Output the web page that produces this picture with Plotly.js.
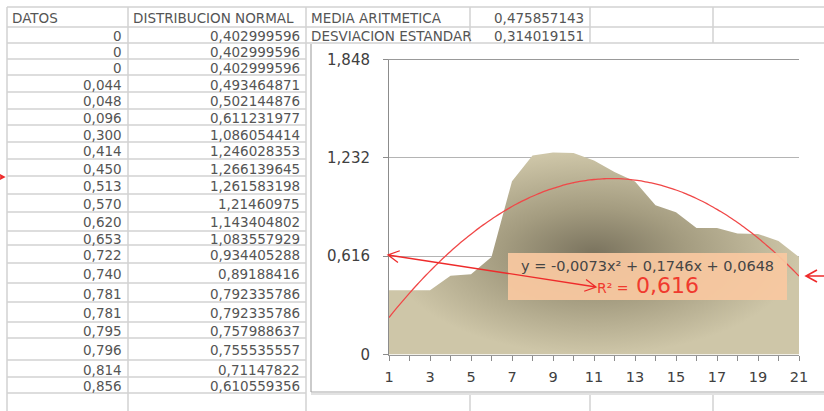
<!DOCTYPE html>
<html>
<head>
<meta charset="utf-8">
<script src="https://cdn.plot.ly/plotly-3.0.1.min.js"></script>
<style>
html,body{margin:0;padding:0;background:#fff;}
#chart{width:824px;height:411px;}
</style>
</head>
<body>
<div id="chart"></div>
<script>
// ---- data ----
const datos = [0, 0, 0, 0.044, 0.048, 0.096, 0.300, 0.414, 0.450, 0.513, 0.570,
  0.620, 0.653, 0.722, 0.740, 0.781, 0.781, 0.795, 0.796, 0.814, 0.856];
const normal = [0.402999596, 0.402999596, 0.402999596, 0.493464871, 0.502144876,
  0.611231977, 1.086054414, 1.246028353, 1.266139645, 1.261583198, 1.21460975,
  1.143404802, 1.083557929, 0.934405288, 0.89188416, 0.792335786, 0.792335786,
  0.757988637, 0.755535557, 0.71147822, 0.610559356];
const categories = normal.map((v, i) => i + 1);
const media = 0.475857143;
const desviacion = 0.314019151;
const headers = ["DATOS", "DISTRIBUCION NORMAL"];
const statLabels = ["MEDIA ARITMETICA", "DESVIACION ESTANDAR"];
const yTickVals = [0, 0.616, 1.232, 1.848];
const yTickText = ["0", "0,616", "1,232", "1,848"];
const xTickText = categories.map(c => (c % 2 === 1 ? String(c) : ""));
const eqText = "y = -0,0073x² + 0,1746x + 0,0648";
const r2Label = "R² =";
const r2Value = "0,616";

// ---- quadratic least-squares trendline computed from the data ----
function polyFit2(xs, ys) {
  let S = [0,0,0,0,0], T = [0,0,0];
  for (let i = 0; i < xs.length; i++) {
    let p = 1;
    for (let k = 0; k < 5; k++) { S[k] += p; if (k < 3) T[k] += p * ys[i]; p *= xs[i]; }
  }
  const A = [[S[0],S[1],S[2],T[0]],[S[1],S[2],S[3],T[1]],[S[2],S[3],S[4],T[2]]];
  for (let c = 0; c < 3; c++) {
    for (let r = c + 1; r < 3; r++) {
      const f = A[r][c] / A[c][c];
      for (let k = c; k < 4; k++) A[r][k] -= f * A[c][k];
    }
  }
  const sol = [0,0,0];
  for (let r = 2; r >= 0; r--) {
    let s = A[r][3];
    for (let k = r + 1; k < 3; k++) s -= A[r][k] * sol[k];
    sol[r] = s / A[r][r];
  }
  return sol; // a0, a1, a2
}
const coef = polyFit2(categories, normal);
const trendX = [], trendY = [];
for (let t = categories[0]; t <= categories[categories.length-1] + 1e-9; t += 0.2) {
  trendX.push(t);
  trendY.push(coef[0] + coef[1]*t + coef[2]*t*t);
}

// ---- geometry helpers (pixel -> paper) ----
const W = 824, H = 411;
const px = x => x / W;
const py = y => 1 - y / H;

const colX = [7, 128, 306, 470, 590, 713];
const rowY = [7, 27, 43, 59, 75, 92, 109, 125, 142, 159, 176, 194, 212, 231, 245,
  263, 283, 302, 322, 338, 360, 377, 393];
const gridCol = '#d2d2d2';
const txtCol = '#555555';
const tFont = {family: 'DejaVu Sans', size: 13.5, color: txtCol};

const xDomain = [px(389), px(799)];
const yDomain = [py(354.5), py(59.5)];
const yRange = [yTickVals[0], yTickVals[yTickVals.length-1]];

const shapes = [];
const annotations = [];
function hline(x0, x1, y, color, w, layer) {
  shapes.push({type:'line', xref:'paper', yref:'paper', x0:px(x0), x1:px(x1), y0:py(y), y1:py(y),
    line:{color:color, width:w}, layer: layer || 'below'});
}
function vline(x, y0, y1, color, w, layer) {
  shapes.push({type:'line', xref:'paper', yref:'paper', x0:px(x), x1:px(x), y0:py(y0), y1:py(y1),
    line:{color:color, width:w}, layer: layer || 'below'});
}
// spreadsheet grid
rowY.forEach(y => hline(colX[0], colX[2], y, gridCol, 1.5));
hline(colX[2], 824, rowY[0], gridCol, 1.5);
hline(colX[2], 824, rowY[1], gridCol, 1.5);
hline(colX[2], 824, rowY[2], gridCol, 1.5);
[colX[0], colX[1], colX[2]].forEach(x => vline(x, rowY[0], 411, gridCol, 1.5));
[colX[3], colX[4], colX[5]].forEach(x => { vline(x, rowY[0], rowY[2], gridCol, 1.5); vline(x, 393, 411, gridCol, 1.5); });
// chart object background
shapes.push({type:'rect', xref:'paper', yref:'paper', x0:px(311), x1:px(830), y0:py(392), y1:py(44),
  fillcolor:'#ffffff', line:{width:0}, layer:'below'});
vline(311, 44, 392, '#a8a8a8', 1.2);
hline(311, 824, 392, '#a8a8a8', 1.2);
hline(311, 824, 394, '#e2e2e2', 2);

// table texts
function cellText(text, col, row, align) {
  const y = (rowY[row] + rowY[row+1]) / 2 + 1;
  const x = align === 'right' ? colX[col+1] - 4 : colX[col] + 3;
  annotations.push({xref:'paper', yref:'paper', x:px(x), y:py(y), text:text, showarrow:false,
    xanchor: align === 'right' ? 'right' : 'left', yanchor:'middle', font:tFont});
}
cellText(headers[0], 0, 0, 'left');
cellText(headers[1], 1, 0, 'left');
cellText(statLabels[0], 2, 0, 'left');
cellText(statLabels[1], 2, 1, 'left');
cellText(String(media).replace('.', ','), 3, 0, 'right');
cellText(String(desviacion).replace('.', ','), 3, 1, 'right');
datos.forEach((d, i) => cellText(d === 0 ? '0' : d.toFixed(3).replace('.', ','), 0, i + 1, 'right'));
normal.forEach((v, i) => cellText(String(v).replace('.', ','), 1, i + 1, 'right'));

// trendline label box
shapes.push({type:'rect', xref:'paper', yref:'paper', x0:px(508), x1:px(787), y0:py(300), y1:py(253),
  fillcolor:'#f9c8a0', opacity:0.93, line:{width:0}, layer:'above'});
annotations.push({xref:'paper', yref:'paper', x:px(647), y:py(266), text:eqText, showarrow:false,
  xanchor:'center', yanchor:'middle', font:{family:'DejaVu Sans', size:14.5, color:'#454545'}});
annotations.push({xref:'paper', yref:'paper', x:px(631), y:py(288), text:r2Label, showarrow:false,
  xanchor:'right', yanchor:'middle', font:{family:'DejaVu Sans', size:14, color:'#f03a2e'}});
annotations.push({xref:'paper', yref:'paper', x:px(634), y:py(285), text:r2Value, showarrow:false,
  xanchor:'left', yanchor:'middle', font:{family:'DejaVu Sans', size:22, color:'#f03a2e'}});

// red arrows
function arrowPath(x1, y1, x2, y2, headStart, headEnd) {
  let p = `M${px(x1)},${py(y1)} L${px(x2)},${py(y2)}`;
  const dx = x2 - x1, dy = y2 - y1, L = Math.hypot(dx, dy), ux = dx / L, uy = dy / L;
  const hl = 11, hw = 6;
  function head(x, y, sx, sy) {
    const bx = x - sx * hl, by = y - sy * hl;
    return ` M${px(bx - sy*hw)},${py(by + sx*hw)} L${px(x)},${py(y)} L${px(bx + sy*hw)},${py(by - sx*hw)}`;
  }
  if (headStart) p += head(x1, y1, -ux, -uy);
  if (headEnd) p += head(x2, y2, ux, uy);
  return p;
}
const red = '#ee2b2b';
shapes.push({type:'path', xref:'paper', yref:'paper', path:arrowPath(388, 255, 596, 287, true, true),
  line:{color:red, width:1.3}, layer:'above'});
shapes.push({type:'path', xref:'paper', yref:'paper', path:arrowPath(830, 276, 806, 276, false, true),
  line:{color:red, width:1.6}, layer:'above'});
shapes.push({type:'path', xref:'paper', yref:'paper', path:arrowPath(-6, 177, 4, 177, false, true),
  line:{color:red, width:1.6}, layer:'above'});

const traces = [
  {type:'scatter', mode:'lines', x:categories, y:normal, fill:'tozeroy', line:{width:0, color:'#b0a88c'},
    fillgradient:{type:'radial', colorscale:[[0,'#7a735e'],[0.45,'#a49c80'],[1,'#cec6a8']]},
    hoverinfo:'skip', showlegend:false},
  {type:'scatter', mode:'lines', x:trendX, y:trendY, line:{color:'#f04848', width:1.3, shape:'spline'},
    hoverinfo:'skip', showlegend:false}
];

const layout = {
  width: W, height: H,
  margin: {l:0, r:0, t:0, b:0},
  paper_bgcolor: '#ffffff',
  plot_bgcolor: 'rgba(0,0,0,0)',
  showlegend: false,
  xaxis: {domain:xDomain, range:[1, 21], tickvals:categories, ticktext:xTickText,
    ticks:'outside', ticklen:5, tickcolor:'#8c8c8c', showline:true, linecolor:'#999999', linewidth:1,
    mirror:true, showgrid:false, zeroline:false, fixedrange:true, ticklabelstandoff:4,
    tickfont:{family:'DejaVu Sans', size:14.5, color:'#404040'}},
  yaxis: {domain:yDomain, range:yRange, tickvals:yTickVals, ticktext:yTickText,
    ticks:'outside', ticklen:5, tickcolor:'#8c8c8c', showline:true, linecolor:'#8c8c8c', linewidth:1,
    showgrid:true, gridcolor:'#b4b4b4', gridwidth:1, zeroline:false, fixedrange:true, ticklabelstandoff:10,
    tickfont:{family:'DejaVu Sans', size:15, color:'#404040'}},
  shapes: shapes,
  annotations: annotations
};
Plotly.newPlot('chart', traces, layout, {staticPlot:true, displayModeBar:false});
</script>
</body>
</html>
